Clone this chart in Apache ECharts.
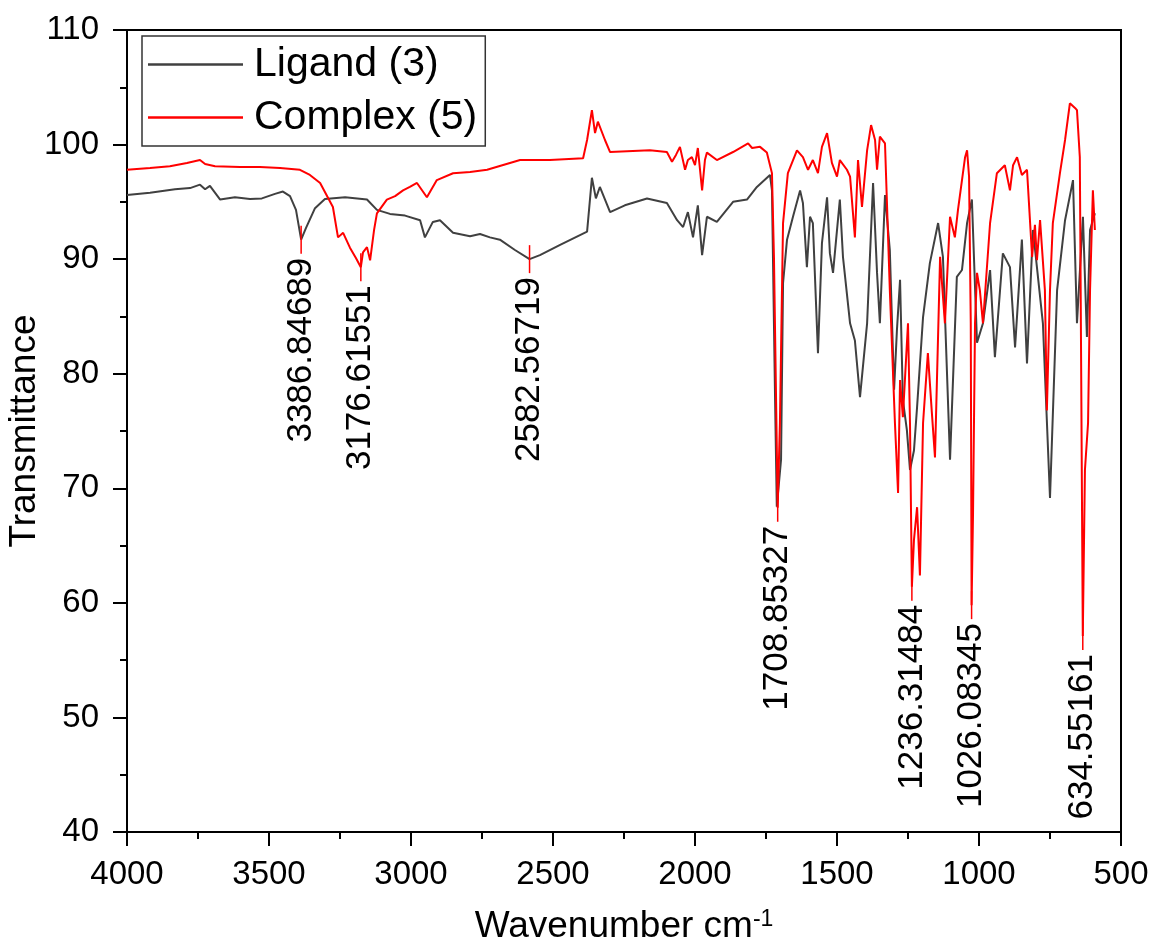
<!DOCTYPE html>
<html><head><meta charset="utf-8">
<script src="https://cdn.jsdelivr.net/npm/echarts@6/dist/echarts.min.js"></script>
<style>html,body{margin:0;padding:0;background:#fff}#c{width:1153px;height:945px}</style>
</head><body><div id="c"></div>
<script>
// ---- data (wavenumber cm^-1, transmittance) ----
const ligandWn = [4000,3919,3831,3778,3743,3725,3708,3672,3620,3567,3525,3479,3451,3426,3405,3386.85,3370,3338,3303,3232,3155,3120,3074,3021,2968,2951,2923,2898,2852,2792,2757,2722,2687,2634,2582.57,2546,2475,2405,2380,2363,2349,2335,2299,2247,2169,2099,2063,2042,2025,2007,1990,1975,1958,1923,1866,1817,1782,1736,1729,1718,1712,1697,1690,1676,1655,1630,1620,1606,1595,1585,1567,1553,1535,1525,1514,1490,1479,1454,1437,1419,1394,1373,1359,1349,1331,1314,1299,1289,1278,1268,1254,1243,1229,1218,1197,1173,1144,1127,1102,1078,1060,1042,1025,1007,986,961,944,916,891,873,849,831,810,775,750,725,697,669,655,634,620,609,592];
const ligandT = [95.6,95.8,96.1,96.2,96.5,96.1,96.4,95.2,95.4,95.25,95.3,95.7,95.9,95.5,94.3,91.7,92.7,94.45,95.25,95.4,95.2,94.3,93.95,93.8,93.4,91.9,93.25,93.4,92.3,92.0,92.2,91.9,91.7,90.8,90.0,90.35,91.25,92.1,92.4,97.1,95.3,96.3,94.1,94.7,95.3,94.9,93.4,92.8,94.1,91.9,94.7,90.35,93.7,93.25,95.0,95.2,96.3,97.35,96.0,77.7,68.4,72.5,87.9,91.7,93.7,96.0,94.9,89.3,93.7,93.15,81.8,91.4,95.4,90.5,88.8,95.2,90.2,84.4,82.9,77.95,84.4,96.65,88.8,84.4,95.6,90.8,78.6,83.8,88.2,77.7,75.1,71.6,73.3,77.1,84.95,89.65,93.15,90.2,72.5,88.45,89.05,93.15,95.2,82.7,84.4,89.05,81.45,90.5,89.3,82.3,91.7,80.9,92.55,84.4,69.15,87.3,93.4,96.9,84.4,93.7,83.2,92.55,94.0];

const complexWn = [4000,3919,3849,3789,3743,3725,3690,3602,3532,3461,3391,3356,3320,3275,3257,3239,3215,3194,3176.62,3169,3155,3144,3130,3120,3085,3056,3028,3004,2979,2944,2909,2852,2792,2732,2616,2511,2394,2380,2363,2352,2342,2317,2299,2159,2099,2081,2067,2053,2035,2025,2011,2000,1990,1975,1965,1958,1923,1866,1813,1799,1771,1747,1729,1722,1708.85,1701,1690,1673,1641,1620,1602,1585,1567,1553,1535,1518,1500,1490,1465,1454,1437,1426,1412,1394,1380,1366,1359,1349,1331,1314,1296,1285,1278,1268,1250,1243,1236.31,1229,1218,1208,1197,1180,1166,1155,1137,1120,1102,1085,1074,1049,1042,1035,1029,1026.08,1021,1014,1007,997,986,961,937,909,891,880,866,849,831,813,803,796,785,768,761,750,740,715,697,680,662,655,645,640,634.55,627,616,609,599,592];
const complexT = [97.8,97.95,98.1,98.4,98.65,98.3,98.1,98.05,98.05,97.95,97.8,97.35,96.65,94.55,91.9,92.3,91.0,90.1,89.3,90.6,91.05,89.9,92.55,94.0,95.2,95.5,96.0,96.3,96.65,95.4,96.9,97.5,97.6,97.8,98.65,98.65,98.8,100.4,103.0,101.0,102.0,100.4,99.35,99.5,99.35,98.5,99.1,99.8,97.8,98.65,98.9,98.2,99.7,96.0,98.65,99.3,98.65,99.35,100.1,99.7,99.8,99.3,97.5,90.2,68.3,75.7,93.15,97.5,99.5,98.9,97.8,98.65,97.5,99.8,101.0,98.4,97.2,98.65,97.8,97.2,91.9,98.65,94.55,99.5,101.7,100.4,97.8,100.7,100.1,87.3,75.7,69.6,79.45,76.2,84.4,75.7,61.4,65.5,68.35,62.4,75.7,81.8,76.6,72.7,90.2,84.4,93.7,91.9,94.3,98.9,99.5,97.2,84.4,59.8,67.85,84.4,88.8,87.3,84.4,93.15,97.5,98.2,96.0,98.2,98.9,97.35,97.8,90.2,93.0,89.9,93.4,87.3,76.8,87.3,93.15,97.5,100.4,103.6,103.2,103.0,98.9,79.45,57.1,71.6,75.7,87.3,96.0,92.55];

const peakWn = [3386.84689, 3176.61551, 2582.56719, 1708.85327, 1236.31484, 1026.08345, 634.55161];
const peakT  = [91.7, 89.3, 90.0, 68.3, 61.4, 59.8, 57.1];

const xTicks = {min: 500, max: 4000, step: 500};
const yTicks = {min: 40, max: 110, step: 10};
const seriesNames = ['Ligand (3)', 'Complex (5)'];

// ---- chart ----
const FONT = '"Liberation Sans", Arial, Helvetica, sans-serif';
const pairs = (xs, ys) => xs.map((x, i) => [x, ys[i]]);
const chart = echarts.init(document.getElementById('c'), null, {renderer: 'canvas'});
const axisCommon = {
  axisLine: {show: true, onZero: false, lineStyle: {color: '#000', width: 2}},
  axisTick: {show: true, length: 14, lineStyle: {color: '#000', width: 2}},
  minorTick: {show: true, splitNumber: 2, length: 7, lineStyle: {color: '#000', width: 2}},
  splitLine: {show: false},
  nameMoveOverlap: false
};
chart.setOption({
  animation: false,
  backgroundColor: '#fff',
  textStyle: {fontFamily: FONT},
  grid: {left: 127, right: 32, top: 30, bottom: 113, containLabel: false, outerBoundsMode: 'none',
         show: true, borderColor: '#000', borderWidth: 2, backgroundColor: 'transparent'},
  legend: {
    left: 142, top: 36, orient: 'vertical',
    padding: [8, 8, 8, 6], itemGap: 12, itemWidth: 95, itemHeight: 2.5,
    borderColor: '#333', borderWidth: 1.5,
    textStyle: {fontSize: 41, color: '#000', fontFamily: FONT, padding: [0, 0, 0, 6]},
    data: seriesNames.map(n => ({name: n, icon: 'rect'}))
  },
  xAxis: Object.assign({
    type: 'value', min: xTicks.min, max: xTicks.max, interval: xTicks.step, inverse: true,
    name: '{a|Wavenumber cm}{b|-1}', nameLocation: 'middle', nameGap: 76,
    nameTextStyle: {rich: {
      a: {fontSize: 37, color: '#000', fontFamily: FONT, verticalAlign: 'bottom'},
      b: {fontSize: 23, color: '#000', fontFamily: FONT, verticalAlign: 'top'}
    }},
    axisLabel: {fontSize: 33, color: '#000', margin: 26, fontFamily: FONT, formatter: v => String(v)}
  }, axisCommon),
  yAxis: Object.assign({
    type: 'value', min: yTicks.min, max: yTicks.max, interval: yTicks.step,
    name: 'Transmittance', nameLocation: 'middle', nameGap: 84,
    nameTextStyle: {fontSize: 37, color: '#000', fontFamily: FONT},
    axisLabel: {fontSize: 33, color: '#000', margin: 28, fontFamily: FONT, formatter: v => String(v)}
  }, axisCommon),
  series: [
    {type: 'line', name: seriesNames[0], data: pairs(ligandWn, ligandT), symbol: 'none', showSymbol: false,
     lineStyle: {color: '#404040', width: 2}, itemStyle: {color: '#404040'}, z: 2},
    {type: 'line', name: seriesNames[1], data: pairs(complexWn, complexT), symbol: 'none', showSymbol: false,
     lineStyle: {color: '#ff0000', width: 2}, itemStyle: {color: '#ff0000'}, z: 3},
    {type: 'scatter', name: 'peaks', data: pairs(peakWn, peakT), symbol: 'rect', symbolSize: [1.5, 28],
     itemStyle: {color: '#ff0000', opacity: 1}, z: 5, silent: true,
     label: {show: true, position: 'bottom', distance: 4, rotate: 90, align: 'right', verticalAlign: 'middle',
       fontSize: 35, color: '#000', opacity: 1, fontFamily: FONT, formatter: p => p.value[0].toFixed(5)}}
  ]
});
</script></body></html>
